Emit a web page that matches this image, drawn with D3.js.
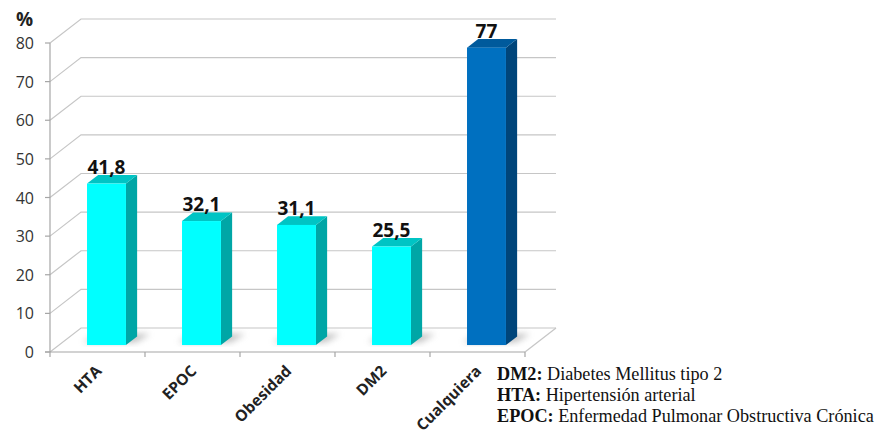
<!DOCTYPE html>
<html>
<head>
<meta charset="utf-8">
<script src="https://cdn.jsdelivr.net/npm/d3@7"></script>
<style>
  body { margin: 0; background: #fff; }
  svg { display: block; }
</style>
</head>
<body>
<svg id="chart" width="878" height="434"></svg>
<script>
// data {{{ //
const categories = ["HTA", "EPOC", "Obesidad", "DM2", "Cualquiera"];
const values = [41.8, 32.1, 31.1, 25.5, 77];
const valueLabels = ["41,8", "32,1", "31,1", "25,5", "77"];
const yTicks = [0, 10, 20, 30, 40, 50, 60, 70, 80];
const legendTerms = ["DM2:", "HTA:", "EPOC:"];
const legendDefs = ["Diabetes Mellitus tipo 2", "Hipertensión arterial", "Enfermedad Pulmonar Obstructiva Crónica"];
// }}} data //

const svg = d3.select("#chart");
const frontColors = ["#00ffff", "#00ffff", "#00ffff", "#00ffff", "#0070c0"];
const sideColors = ["#00a6a6", "#00a6a6", "#00a6a6", "#00a6a6", "#00457a"];
const topColors = ["#00c4c4", "#00c4c4", "#00c4c4", "#00c4c4", "#005a9c"];

// scales {{{ //
const x = d3.scaleBand().domain(categories).range([50, 525]);
const y = d3.scaleLinear().domain([0, 80]).range([352, 43]);
const DX = 31, DY = 24;       // depth of the floor
const z0 = 0.29, z1 = 0.65;   // bar depth position
const P = (xs, v, z) => [xs + z * DX, y(v) - z * DY];
// }}} scales //

const defs = svg.append("defs");
defs.append("filter").attr("id", "blur")
  .attr("x", "-50%").attr("y", "-50%").attr("width", "200%").attr("height", "200%")
  .append("feGaussianBlur").attr("stdDeviation", 3);

// walls and gridlines {{{ //
const grid = svg.append("g").attr("stroke", "#c6c6c6").attr("fill", "none").attr("stroke-width", 1.2);
yTicks.forEach(function(t) {
  let a = P(50, t, 0), b = P(50, t, 1), c = P(525, t, 1);
  grid.append("polyline").attr("points", [a, b, c].map(p => p.join(",")).join(" "));
});
// floor right edge
grid.append("line")
  .attr("x1", P(525, 0, 1)[0]).attr("y1", P(525, 0, 1)[1])
  .attr("x2", P(525, 0, 0)[0]).attr("y2", P(525, 0, 0)[1]);
// }}} walls and gridlines //

// axes {{{ //
const axisG = svg.append("g").attr("stroke", "#a6a6a6").attr("stroke-width", 1.2);
axisG.append("line").attr("x1", 50).attr("x2", 50).attr("y1", y(80)).attr("y2", y(0));
axisG.append("line").attr("x1", 45).attr("x2", 525).attr("y1", y(0)).attr("y2", y(0));
yTicks.forEach(function(t) {
  axisG.append("line").attr("x1", 45).attr("x2", 50).attr("y1", y(t)).attr("y2", y(t));
});
categories.forEach(function(c) {
  axisG.append("line").attr("x1", x(c)).attr("x2", x(c)).attr("y1", y(0)).attr("y2", y(0) + 5);
});
axisG.append("line").attr("x1", 525).attr("x2", 525).attr("y1", y(0)).attr("y2", y(0) + 5);

svg.append("g").selectAll("text")
  .data(yTicks)
  .enter().append("text")
  .attr("x", 34)
  .attr("y", d => y(d))
  .attr("dy", "0.38em")
  .attr("text-anchor", "end")
  .attr("fill", "#333")
  .style("font", "16px 'Open Sans', sans-serif")
  .text(d => d);

svg.append("text")
  .attr("x", 16).attr("y", 26)
  .attr("fill", "#222")
  .style("font", "bold 19px 'Open Sans', sans-serif")
  .text("%");

svg.append("g").selectAll("text")
  .data(categories)
  .enter().append("text")
  .attr("transform", d => "translate(" + (x(d) + x.bandwidth() / 2 + 5) + "," + 372 + ") rotate(-45)")
  .attr("text-anchor", "end")
  .attr("fill", "#222")
  .style("font", "bold 15.5px 'Open Sans', sans-serif")
  .text(d => d);
// }}} axes //

// bars {{{ //
const bw = x.bandwidth();
categories.forEach(function(c, i) {
  let v = values[i];
  let xl = x(c) + bw * 0.295, xr = xl + bw * 0.41;
  let g = svg.append("g");
  // shadow on floor
  let s = [P(xl - 8, 0, z0 + 0.12), P(xr + 6, 0, z0 + 0.12), P(xr + 10, 0, z1 + 0.1), P(xl - 4, 0, z1 + 0.1)];
  g.append("polygon")
    .attr("points", s.map(p => p.join(",")).join(" "))
    .attr("fill", "#8c8c8c").attr("opacity", 0.55)
    .attr("filter", "url(#blur)");
  let side = [P(xr, 0, z0), P(xr, v, z0), P(xr, v, z1), P(xr, 0, z1)];
  g.append("polygon").attr("points", side.map(p => p.join(",")).join(" ")).attr("fill", sideColors[i]);
  let top = [P(xl, v, z0), P(xr, v, z0), P(xr, v, z1), P(xl, v, z1)];
  g.append("polygon").attr("points", top.map(p => p.join(",")).join(" ")).attr("fill", topColors[i]);
  let f0 = P(xl, v, z0), f1 = P(xr, 0, z0);
  g.append("rect")
    .attr("x", f0[0]).attr("y", f0[1])
    .attr("width", f1[0] - f0[0]).attr("height", f1[1] - f0[1])
    .attr("fill", frontColors[i]);
  g.append("text")
    .attr("x", (f0[0] + f1[0]) / 2)
    .attr("y", P(xl, v, z1)[1] - 1)
    .attr("text-anchor", "middle")
    .attr("fill", "#111")
    .style("font", "bold 19px 'Open Sans', sans-serif")
    .text(valueLabels[i]);
});
// }}} bars //

// legend {{{ //
const leg = svg.append("g").style("font", "18.2px 'Liberation Serif', serif").attr("fill", "#111");
legendTerms.forEach(function(t, i) {
  let tx = leg.append("text").attr("x", 497).attr("y", 380 + i * 21);
  tx.append("tspan").attr("font-weight", "bold").text(t);
  tx.append("tspan").text(" " + legendDefs[i]);
});
// }}} legend //
</script>
</body>
</html>
